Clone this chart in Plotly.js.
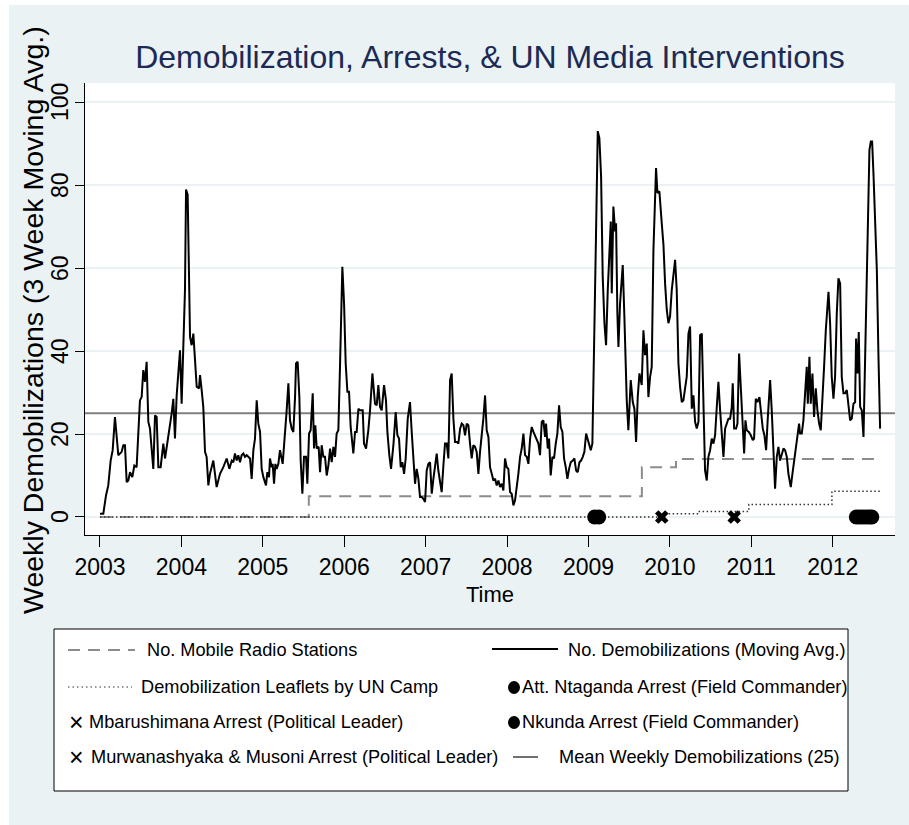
<!DOCTYPE html>
<html>
<head>
<meta charset="utf-8">
<script src="https://cdn.plot.ly/plotly-3.0.1.min.js"></script>
<style>
  html, body { margin: 0; padding: 0; background: #ffffff; }
  #chart { position: absolute; left: 9px; top: 5px; width: 900px; height: 820px; }
</style>
</head>
<body>
<div id="chart"></div>
<script>
// ---------------- DATA ----------------
const DEMOB_YEARS = [
  2003.000, 2003.041, 2003.074, 2003.102, 2003.131, 2003.156, 2003.184, 2003.225, 2003.266, 2003.287,
  2003.307, 2003.328, 2003.348, 2003.369, 2003.397, 2003.422, 2003.450, 2003.471, 2003.491, 2003.512,
  2003.532, 2003.553, 2003.573, 2003.594, 2003.614, 2003.655, 2003.676, 2003.696, 2003.717, 2003.745,
  2003.778, 2003.799, 2003.827, 2003.848, 2003.880, 2003.901, 2003.921, 2003.942, 2003.962, 2003.983,
  2004.003, 2004.024, 2004.044, 2004.057, 2004.077, 2004.106, 2004.126, 2004.147, 2004.167, 2004.188,
  2004.216, 2004.229, 2004.249, 2004.269, 2004.290, 2004.310, 2004.331, 2004.351, 2004.392, 2004.433,
  2004.474, 2004.515, 2004.556, 2004.589, 2004.618, 2004.638, 2004.658, 2004.679, 2004.699, 2004.720,
  2004.740, 2004.761, 2004.781, 2004.802, 2004.843, 2004.863, 2004.884, 2004.904, 2004.925, 2004.945,
  2004.966, 2004.986, 2005.007, 2005.039, 2005.056, 2005.076, 2005.088, 2005.109, 2005.121, 2005.138,
  2005.154, 2005.170, 2005.191, 2005.211, 2005.244, 2005.273, 2005.293, 2005.314, 2005.334, 2005.355,
  2005.375, 2005.396, 2005.408, 2005.428, 2005.449, 2005.465, 2005.486, 2005.506, 2005.531, 2005.547,
  2005.568, 2005.588, 2005.613, 2005.629, 2005.645, 2005.662, 2005.686, 2005.703, 2005.723, 2005.744,
  2005.764, 2005.785, 2005.805, 2005.826, 2005.846, 2005.867, 2005.887, 2005.907, 2005.928, 2005.948,
  2005.977, 2005.998, 2006.018, 2006.039, 2006.059, 2006.079, 2006.112, 2006.133, 2006.153, 2006.174,
  2006.194, 2006.227, 2006.243, 2006.268,
  2006.296, 2006.317, 2006.346, 2006.378, 2006.399, 2006.419, 2006.440, 2006.460, 2006.489, 2006.513,
  2006.530, 2006.554, 2006.575, 2006.604, 2006.632, 2006.653, 2006.673, 2006.694, 2006.714, 2006.735,
  2006.755, 2006.780, 2006.808, 2006.829, 2006.849, 2006.870, 2006.890, 2006.911, 2006.931, 2006.952,
  2006.972, 2006.993, 2007.013, 2007.034, 2007.054, 2007.075, 2007.095, 2007.116, 2007.136, 2007.156,
  2007.177, 2007.197, 2007.218, 2007.238, 2007.259, 2007.279, 2007.300, 2007.320, 2007.341, 2007.361,
  2007.382, 2007.402, 2007.423, 2007.443, 2007.464, 2007.484, 2007.505, 2007.525, 2007.545, 2007.566,
  2007.586, 2007.607, 2007.627, 2007.648, 2007.668, 2007.689, 2007.709, 2007.730, 2007.750, 2007.771,
  2007.791, 2007.812, 2007.832, 2007.853, 2007.873, 2007.894, 2007.914, 2007.935, 2007.955, 2007.975,
  2007.996, 2008.016, 2008.037, 2008.057, 2008.078, 2008.098, 2008.119, 2008.139, 2008.160, 2008.180,
  2008.201, 2008.221, 2008.242, 2008.262, 2008.283, 2008.303, 2008.324, 2008.344, 2008.364, 2008.385,
  2008.405, 2008.426, 2008.446, 2008.467, 2008.479, 2008.500, 2008.516, 2008.536, 2008.557, 2008.577,
  2008.598, 2008.618, 2008.639, 2008.659, 2008.680, 2008.700, 2008.721, 2008.741, 2008.762, 2008.782,
  2008.807, 2008.827, 2008.848, 2008.868, 2008.889, 2008.909, 2008.930, 2008.950, 2008.971, 2008.987,
  2009.007, 2009.028, 2009.048, 2009.069, 2009.093, 2009.114, 2009.134, 2009.155, 2009.175, 2009.196,
  2009.216, 2009.237, 2009.257, 2009.274, 2009.286, 2009.306, 2009.327, 2009.339, 2009.355, 2009.368,
  2009.388, 2009.421, 2009.441, 2009.470, 2009.490, 2009.519, 2009.544, 2009.564, 2009.585, 2009.605,
  2009.626,
  2009.654, 2009.675, 2009.695, 2009.716, 2009.736, 2009.757, 2009.777, 2009.798, 2009.818, 2009.830,
  2009.847, 2009.871, 2009.900, 2009.921, 2009.941, 2009.962, 2009.982, 2010.002, 2010.023, 2010.043,
  2010.064, 2010.084, 2010.105, 2010.125, 2010.146, 2010.166, 2010.187, 2010.207, 2010.228, 2010.248,
  2010.269, 2010.289, 2010.310, 2010.330, 2010.351, 2010.371, 2010.392, 2010.412, 2010.432, 2010.453,
  2010.473, 2010.494, 2010.514, 2010.535, 2010.555, 2010.576, 2010.596, 2010.617, 2010.637, 2010.658,
  2010.678, 2010.699, 2010.719, 2010.740, 2010.760, 2010.772, 2010.789, 2010.813, 2010.830, 2010.850,
  2010.871, 2010.883, 2010.912, 2010.928, 2010.944, 2010.969, 2010.994, 2011.018, 2011.034, 2011.055,
  2011.075, 2011.100, 2011.120, 2011.141, 2011.161, 2011.182, 2011.202, 2011.231, 2011.251, 2011.272,
  2011.292, 2011.313, 2011.333, 2011.354, 2011.374, 2011.395, 2011.415, 2011.436, 2011.456, 2011.485,
  2011.505, 2011.526, 2011.546, 2011.567, 2011.587, 2011.599, 2011.620, 2011.640, 2011.661, 2011.681,
  2011.694, 2011.714, 2011.730, 2011.751, 2011.771, 2011.792, 2011.812, 2011.833, 2011.853, 2011.874,
  2011.894, 2011.915, 2011.935, 2011.948, 2011.968, 2011.988, 2012.009, 2012.029, 2012.050, 2012.070,
  2012.091, 2012.111, 2012.132, 2012.152, 2012.173, 2012.193, 2012.214, 2012.234, 2012.255, 2012.275,
  2012.287, 2012.304, 2012.320, 2012.337, 2012.357, 2012.378, 2012.398, 2012.419, 2012.431, 2012.451,
  2012.468, 2012.484, 2012.501, 2012.521, 2012.542, 2012.562, 2012.582
];
const DEMOB_VALUES = [
  0.8, 0.8, 5.2, 7.6, 13.6, 16.1, 24.1, 14.9, 15.7, 17.3,
  17.3, 8.4, 8.8, 10.8, 9.6, 12.4, 12.0, 21.3, 28.1, 28.9,
  35.4, 32.6, 37.4, 22.9, 21.3, 11.6, 24.5, 24.1, 12.0, 12.0,
  17.7, 14.1, 17.7, 21.3, 24.9, 28.5, 18.9, 29.3, 34.6, 40.2,
  27.3, 41.8, 54.7, 78.9, 77.7, 43.4, 41.4, 44.2, 38.6, 31.4,
  31.0, 34.2, 30.6, 26.5, 15.7, 14.5, 7.6, 10.4, 13.6, 7.2,
  10.4, 12.0, 14.1, 11.6, 13.6, 13.2, 15.3, 13.6, 14.9, 13.2,
  14.9, 15.3, 14.5, 14.9, 14.1, 9.2, 16.1, 18.9, 28.1, 22.5,
  20.5, 11.6, 9.6, 7.6, 10.8, 9.6, 14.1, 12.0, 12.8, 8.0,
  12.8, 11.6, 12.8, 16.1, 12.8, 19.3, 25.7, 32.2, 23.3, 21.3,
  20.5, 28.9, 37.0, 37.4, 28.9, 13.6, 5.6, 14.5, 14.5, 8.0,
  20.1, 20.9, 29.8, 16.5, 22.1, 16.5, 16.9, 10.8, 17.3, 14.5,
  14.5, 10.0, 12.4, 16.5, 13.2, 16.9, 14.5, 20.1, 20.9, 36.2,
  60.3, 51.5, 37.0, 30.2, 30.2, 21.7, 15.3, 20.5, 20.5, 26.1,
  25.7, 25.7, 17.7, 16.5,
  20.9, 25.7, 34.6, 27.3, 26.9, 31.8, 26.5, 25.7, 31.8, 28.1,
  20.5, 14.9, 11.6, 17.3, 25.3, 19.7, 18.9, 12.0, 13.2, 10.4,
  14.1, 23.7, 27.7, 20.5, 14.1, 8.0, 11.6, 9.2, 4.8, 4.8,
  4.4, 3.6, 11.2, 12.8, 13.2, 5.6, 9.2, 12.4, 15.3, 11.2,
  8.8, 6.0, 12.4, 17.7, 17.7, 14.1, 33.0, 34.6, 23.7, 18.1,
  18.1, 17.7, 21.3, 22.5, 22.1, 19.7, 22.5, 22.1, 17.7, 14.1,
  17.3, 16.9, 15.7, 10.4, 15.7, 19.3, 23.7, 29.3, 20.9, 19.3,
  12.0, 10.4, 8.8, 9.2, 7.6, 8.8, 7.2, 8.0, 6.4, 14.1,
  12.0, 11.6, 6.0, 5.6, 2.8, 4.0, 6.8, 10.4, 14.5, 16.5,
  20.1, 14.9, 14.5, 12.8, 18.9, 21.7, 20.5, 19.7, 18.9, 17.7,
  14.9, 22.9, 23.3, 19.3, 22.5, 16.5, 18.9, 10.0, 14.5, 14.1,
  17.7, 20.1, 26.9, 21.7, 20.5, 14.1, 12.0, 9.2, 11.6, 13.2,
  13.6, 14.1, 11.2, 10.8, 13.2, 13.6, 14.5, 15.7, 20.1, 18.9,
  18.1, 16.1, 17.7, 46.7, 68.4, 93.0, 91.3, 82.1, 57.9, 46.7,
  41.4, 54.7, 63.6, 71.2, 53.9, 74.8, 68.8, 70.8, 49.1, 41.0,
  51.5, 60.7, 48.3, 28.1, 20.9, 33.0, 27.7, 26.1, 18.1, 28.9,
  34.6,
  31.8, 45.0, 39.0, 41.8, 28.9, 33.8, 36.2, 64.4, 78.9, 84.1,
  78.1, 78.5, 70.8, 65.6, 56.3, 49.9, 46.7, 48.3, 54.7, 58.7,
  62.0, 54.7, 37.0, 31.4, 27.7, 28.1, 30.6, 33.8, 44.2, 45.9,
  26.1, 29.3, 22.9, 21.3, 22.9, 43.8, 44.2, 30.6, 11.2, 8.8,
  14.5, 16.1, 18.9, 17.7, 19.7, 26.5, 32.6, 25.7, 20.9, 14.5,
  21.3, 22.5, 23.7, 23.7, 26.5, 32.2, 21.3, 21.3, 22.5, 39.4,
  30.6, 25.7, 15.3, 23.3, 20.9, 20.5, 19.7, 18.5, 18.9, 28.5,
  27.7, 28.9, 25.7, 21.3, 19.7, 16.1, 23.7, 33.0, 25.7, 16.1,
  6.8, 14.5, 16.9, 13.6, 14.9, 16.5, 16.1, 14.5, 10.4, 7.2,
  10.4, 13.2, 16.5, 19.7, 22.5, 20.1, 20.1, 23.3, 29.3, 36.2,
  27.3, 38.6, 27.3, 34.6, 24.1, 31.0, 25.7, 22.5, 20.9, 27.3,
  36.2, 45.0, 50.7, 54.3, 46.7, 33.8, 28.5, 33.8, 49.1, 57.5,
  56.3, 33.8, 29.8, 29.8, 30.6, 26.5, 23.3, 23.7, 27.3, 27.7,
  43.0, 34.6, 44.6, 26.5, 25.7, 19.3, 37.0, 63.6, 70.8, 88.5,
  90.5, 90.5, 82.5, 70.0, 59.5, 38.6, 21.3
];

// Number of mobile radio stations (step series)
const RADIO_YEARS  = [2003.000, 2005.565, 2009.656, 2010.075, 2012.582];
const RADIO_VALUES = [0, 5, 12, 14, 14];

// Demobilization leaflets by UN camp (step series)
const LEAFLET_YEARS  = [2003.000, 2009.920, 2010.350, 2010.970, 2011.990, 2012.582];
const LEAFLET_VALUES = [0, 0.8, 1.3, 3.0, 6.2, 6.2];

// Arrest events (plotted at 0)
const MURWANASHYAKA_YEARS = [2009.900];
const MURWANASHYAKA_LEVEL = [0];
const MBARUSHIMANA_YEARS  = [2010.790];
const MBARUSHIMANA_LEVEL  = [0];
const NKUNDA_YEARS        = [2009.076, 2009.126];
const NKUNDA_LEVEL        = [0, 0];
const NTAGANDA_YEARS      = [2012.290, 2012.330, 2012.370, 2012.410, 2012.450, 2012.480];
const NTAGANDA_LEVEL      = [0, 0, 0, 0, 0, 0];

const MEAN_WEEKLY = 25;

const YEAR_TICKS  = [2003, 2004, 2005, 2006, 2007, 2008, 2009, 2010, 2011, 2012];
const VALUE_TICKS = [0, 20, 40, 60, 80, 100];

const TITLE   = 'Demobilization, Arrests, &amp; UN Media Interventions';
const X_TITLE = 'Time';
const Y_TITLE = 'Weekly Demobilizations (3 Week Moving Avg.)';

// ---------------- STYLE / LAYOUT ----------------
const FONT = '"Liberation Sans", Arial, Helvetica, sans-serif';
const BG   = '#eaf2f3';

// page-pixel -> paper helpers (plot area spans page x 85..895, y 83..535)
const PX0 = 85, PW = 810, PY1 = 535, PH = 452;
const px = x => (x - PX0) / PW;
const py = y => (PY1 - y) / PH;

const traces = [
  { x: RADIO_YEARS, y: RADIO_VALUES, type: 'scatter', mode: 'lines',
    line: { shape: 'hv', color: '#8c8c8c', width: 2, dash: '12px,8px' }, hoverinfo: 'skip' },
  { x: LEAFLET_YEARS, y: LEAFLET_VALUES, type: 'scatter', mode: 'lines',
    line: { shape: 'hv', color: '#333333', width: 1.5, dash: '1.5px,2.5px' }, hoverinfo: 'skip' },
  { x: DEMOB_YEARS, y: DEMOB_VALUES, type: 'scatter', mode: 'lines',
    line: { color: '#000000', width: 2 }, hoverinfo: 'skip' },
  { x: MURWANASHYAKA_YEARS, y: MURWANASHYAKA_LEVEL, type: 'scatter', mode: 'markers',
    marker: { symbol: 'x', size: 12, color: '#000000' }, hoverinfo: 'skip' },
  { x: MBARUSHIMANA_YEARS, y: MBARUSHIMANA_LEVEL, type: 'scatter', mode: 'markers',
    marker: { symbol: 'x', size: 12, color: '#000000' }, hoverinfo: 'skip' },
  { x: NKUNDA_YEARS, y: NKUNDA_LEVEL, type: 'scatter', mode: 'markers',
    marker: { symbol: 'circle', size: 15, color: '#000000' }, hoverinfo: 'skip' },
  { x: NTAGANDA_YEARS, y: NTAGANDA_LEVEL, type: 'scatter', mode: 'markers',
    marker: { symbol: 'circle', size: 15, color: '#000000' }, hoverinfo: 'skip' }
];

const legendFont = { family: FONT, size: 18.2, color: '#000000' };
const rows = [650, 687, 722, 757];

const annotations = [
  { text: 'No. Mobile Radio Stations', x: px(146), y: py(rows[0]) },
  { text: 'Demobilization Leaflets by UN Camp', x: px(140), y: py(rows[1]) },
  { text: 'Mbarushimana Arrest (Political Leader)', x: px(88), y: py(rows[2]) },
  { text: 'Murwanashyaka &amp; Musoni Arrest (Political Leader)', x: px(90), y: py(rows[3]) },
  { text: 'No. Demobilizations (Moving Avg.)', x: px(567), y: py(rows[0]) },
  { text: 'Att. Ntaganda Arrest (Field Commander)', x: px(521), y: py(rows[1]) },
  { text: 'Nkunda Arrest (Field Commander)', x: px(521), y: py(rows[2]) },
  { text: 'Mean Weekly Demobilizations (25)', x: px(558), y: py(rows[3]) }
].map(a => Object.assign({ xref: 'paper', yref: 'paper', xanchor: 'left', yanchor: 'middle',
  showarrow: false, font: legendFont, borderpad: 0 }, a));

// legend "×" keys
[rows[2], rows[3]].forEach(r => annotations.push({
  text: '×', x: px(76), y: py(r), xref: 'paper', yref: 'paper', xanchor: 'center', yanchor: 'middle',
  showarrow: false, font: { family: FONT, size: 25, color: '#000000' }, borderpad: 0
}));

// rotated y tick labels, positioned at each tick value on the y axis
VALUE_TICKS.forEach(v => annotations.push({
  text: String(v), x: px(60), y: v, xref: 'paper', yref: 'y', xanchor: 'center', yanchor: 'middle',
  textangle: -90, showarrow: false, font: { family: FONT, size: 23, color: '#000000' }, borderpad: 0
}));

// y-axis title placed as rotated text
annotations.push({
  text: Y_TITLE, x: px(33), y: py(320), xref: 'paper', yref: 'paper', xanchor: 'center', yanchor: 'middle',
  textangle: -90, showarrow: false, font: { family: FONT, size: 28.5, color: '#000000' }, borderpad: 0
});

const shapes = [
  // mean line
  { type: 'line', xref: 'paper', x0: 0, x1: 1, yref: 'y', y0: MEAN_WEEKLY, y1: MEAN_WEEKLY,
    line: { color: '#7f7f7f', width: 2 }, layer: 'below' },
  // legend box
  { type: 'rect', xref: 'paper', yref: 'paper', x0: px(54), x1: px(848), y0: py(791), y1: py(629),
    fillcolor: '#ffffff', line: { color: '#000000', width: 1 } },
  // legend keys
  { type: 'line', xref: 'paper', yref: 'paper', x0: px(68), x1: px(135), y0: py(rows[0]), y1: py(rows[0]),
    line: { color: '#8c8c8c', width: 2, dash: '12px,8px' } },
  { type: 'line', xref: 'paper', yref: 'paper', x0: px(68), x1: px(132), y0: py(rows[1]), y1: py(rows[1]),
    line: { color: '#333333', width: 1.2, dash: '1.5px,3px' } },
  { type: 'line', xref: 'paper', yref: 'paper', x0: px(492), x1: px(558), y0: py(649), y1: py(649),
    line: { color: '#000000', width: 2 } },
  { type: 'line', xref: 'paper', yref: 'paper', x0: px(513), x1: px(538), y0: py(757), y1: py(757),
    line: { color: '#222222', width: 1.3 } },
  { type: 'circle', xref: 'paper', yref: 'paper', x0: px(508), x1: px(520), y0: py(rows[1] + 7), y1: py(rows[1] - 6),
    fillcolor: '#000000', line: { width: 0 } },
  { type: 'circle', xref: 'paper', yref: 'paper', x0: px(508), x1: px(520), y0: py(rows[2] + 7), y1: py(rows[2] - 6),
    fillcolor: '#000000', line: { width: 0 } }
];

const layout = {
  width: 900, height: 820,
  margin: { l: 76, r: 14, t: 78, b: 290, pad: 0 },
  paper_bgcolor: BG, plot_bgcolor: '#ffffff',
  showlegend: false,
  title: { text: TITLE, font: { family: FONT, size: 32, color: '#1c2a55' },
           x: 0.5, xref: 'paper', xanchor: 'center', y: 1 - (57 - 5) / 820, yref: 'container', yanchor: 'middle' },
  xaxis: {
    range: [2002.816, 2012.765], tickvals: YEAR_TICKS, ticktext: YEAR_TICKS.map(String),
    ticks: 'outside', ticklen: 11, tickwidth: 1, tickcolor: '#000000',
    showline: true, linecolor: '#000000', linewidth: 1, mirror: false,
    showgrid: false, zeroline: false,
    tickfont: { family: FONT, size: 23, color: '#000000' },
    title: { text: X_TITLE, font: { family: FONT, size: 22, color: '#000000' }, standoff: 8 }
  },
  yaxis: {
    range: [-4.34, 104.6], tickvals: VALUE_TICKS, showticklabels: false,
    ticks: 'outside', ticklen: 9, tickwidth: 1, tickcolor: '#000000',
    showline: true, linecolor: '#000000', linewidth: 1,
    showgrid: true, gridcolor: BG, gridwidth: 1.5, zeroline: false
  },
  shapes: shapes,
  annotations: annotations
};

Plotly.newPlot('chart', traces, layout, { displayModeBar: false, staticPlot: true });
</script>
</body>
</html>
